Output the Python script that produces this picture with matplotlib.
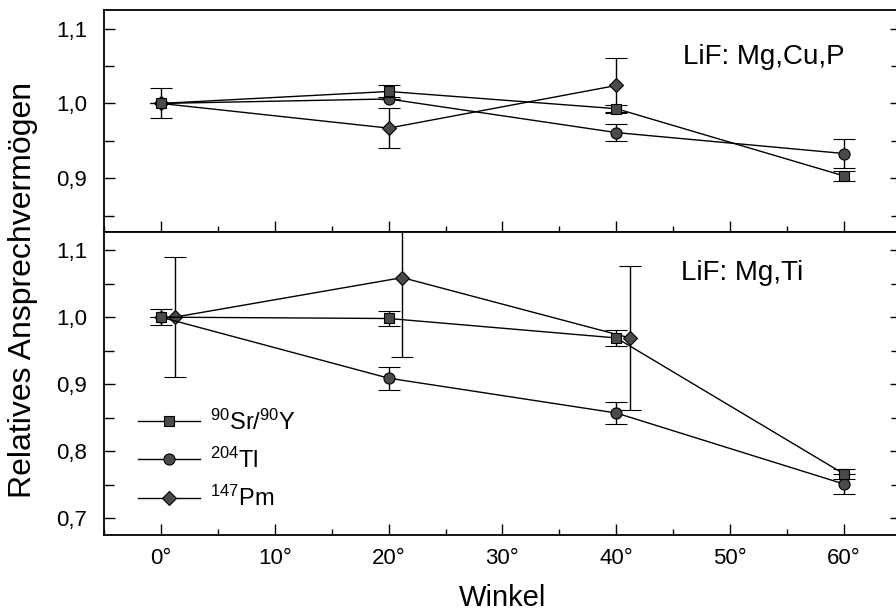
import matplotlib
matplotlib.use("Agg")
import matplotlib.pyplot as plt
from matplotlib.lines import Line2D
from matplotlib.ticker import MultipleLocator, FuncFormatter

plt.rcParams['font.family'] = ['Liberation Sans', 'DejaVu Sans']
plt.rcParams['mathtext.fontset'] = 'custom'
plt.rcParams['mathtext.rm'] = 'Liberation Sans'
plt.rcParams['mathtext.it'] = 'Liberation Sans'

# Winkel (degrees)
angles = [0, 20, 40, 60]
angles_pm = [0, 20, 40]
angles_pm_ti = [1.2, 21.2, 41.2]

# LiF: Mg,Cu,P
cup_sr = [1.000, 1.016, 0.993, 0.903]
cup_sr_err = [0.0, 0.008, 0.005, 0.007]
cup_tl = [1.000, 1.006, 0.961, 0.933]
cup_tl_err = [0.0, 0.0, 0.011, 0.020]
cup_pm = [1.000, 0.967, 1.024]
cup_pm_err = [0.020, 0.027, 0.037]

# LiF: Mg,Ti
ti_sr = [1.000, 0.998, 0.969, 0.766]
ti_sr_err = [0.012, 0.011, 0.012, 0.008]
ti_tl = [1.000, 0.909, 0.857, 0.751]
ti_tl_err = [0.0, 0.017, 0.017, 0.015]
ti_pm = [1.000, 1.059, 0.969]
ti_pm_err = [0.090, 0.119, 0.107]

series_labels = [r'$^{90}$Sr/$^{90}$Y', r'$^{204}$Tl', r'$^{147}$Pm']
series_markers = ['s', 'o', 'D']

fig = plt.figure(figsize=(8.96, 6.13), dpi=100)
ax_top = fig.add_axes([0.116, 0.6215, 0.8896, 0.3622])
ax_bot = fig.add_axes([0.116, 0.1272, 0.8896, 0.4943])

face = '#4a4a4a'
sizes = {'s': 7.5, 'o': 8, 'D': 7.5}
common = dict(color='black', lw=1.0, elinewidth=1.0, capsize=8, capthick=1.0,
              mec='black', mfc=face, mew=0.8)

def draw(ax, sr, sr_e, tl, tl_e, pm_x, pm, pm_e):
    ax.errorbar(pm_x, pm, yerr=pm_e, marker='D', ms=sizes['D'], zorder=3, **common)
    ax.errorbar(angles, tl, yerr=tl_e, marker='o', ms=sizes['o'], zorder=4, **common)
    ax.errorbar(angles, sr, yerr=sr_e, marker='s', ms=sizes['s'], zorder=5, **common)

draw(ax_top, cup_sr, cup_sr_err, cup_tl, cup_tl_err, angles_pm, cup_pm, cup_pm_err)
draw(ax_bot, ti_sr, ti_sr_err, ti_tl, ti_tl_err, angles_pm_ti, ti_pm, ti_pm_err)

comma = FuncFormatter(lambda v, p: f"{v:.1f}".replace('.', ','))
deg = FuncFormatter(lambda v, p: f"{v:g}°")

for ax, ylim in ((ax_top, (0.828, 1.125)), (ax_bot, (0.675, 1.127))):
    ax.set_xlim(-5, 65)
    ax.set_ylim(*ylim)
    ax.xaxis.set_major_locator(MultipleLocator(10))
    ax.xaxis.set_minor_locator(MultipleLocator(5))
    ax.yaxis.set_major_locator(MultipleLocator(0.1))
    ax.yaxis.set_minor_locator(MultipleLocator(0.05))
    ax.yaxis.set_major_formatter(comma)
    ax.xaxis.set_major_formatter(deg)
    ax.tick_params(axis='both', which='both', direction='in', top=False,
                   right=True, labelsize=16, width=1.0)
    ax.tick_params(axis='y', which='major', length=8, pad=12)
    ax.tick_params(axis='y', which='minor', length=7)
    ax.tick_params(axis='x', which='major', length=8, pad=9)
    ax.tick_params(axis='x', which='minor', length=4)
    for s in ax.spines.values():
        s.set_linewidth(1.3)

ax_top.tick_params(axis='x', labelbottom=False)

ax_top.text(0.727, 0.79, 'LiF: Mg,Cu,P', transform=ax_top.transAxes,
            fontsize=20, va='center', ha='left')
ax_bot.text(0.724, 0.865, 'LiF: Mg,Ti', transform=ax_bot.transAxes,
            fontsize=20, va='center', ha='left')

ax_bot.set_xlabel('Winkel', fontsize=21, labelpad=11)
fig.text(0.026, 0.527, 'Relatives Ansprechvermögen', rotation=90,
         fontsize=23, ha='center', va='center')

legend_handles = [Line2D([], [], color='black', lw=1.0, marker=m, ms=sizes[m],
                         mfc=face, mec='black', mew=0.8)
                  for m in series_markers]
ax_bot.legend(legend_handles, series_labels, loc='upper left',
              bbox_to_anchor=(0.043, 0.415), frameon=False, fontsize=17,
              handlelength=2.6, handletextpad=0.45, labelspacing=0.55,
              borderpad=0.0, borderaxespad=0.0)

fig.savefig('out.png', dpi=100)
